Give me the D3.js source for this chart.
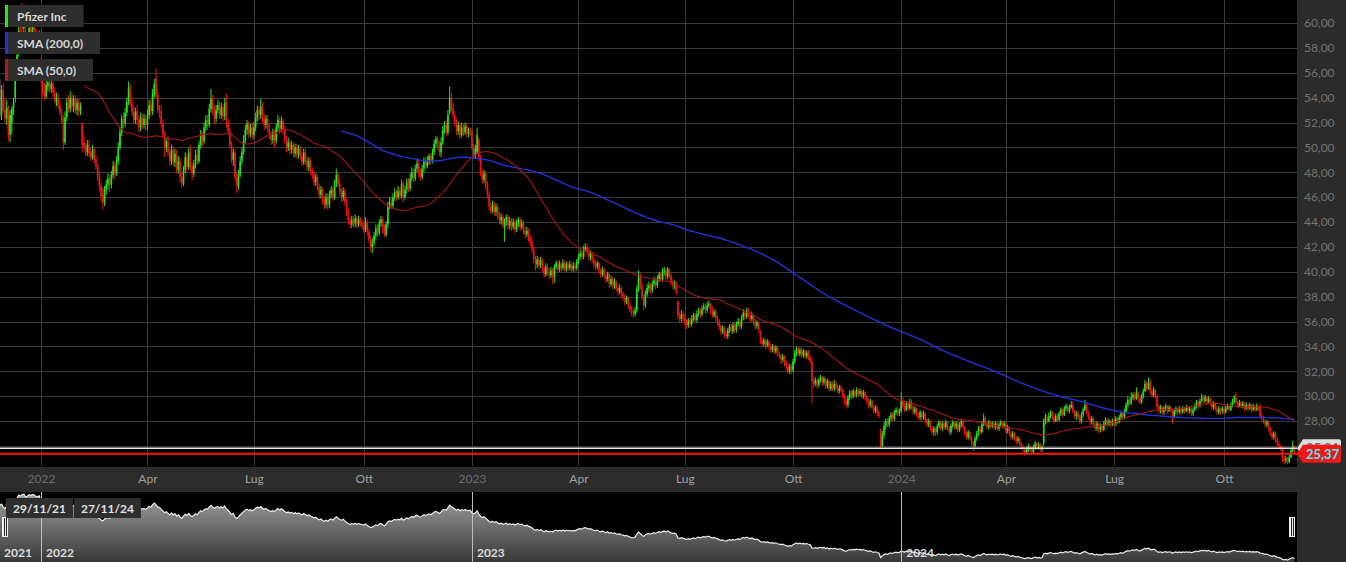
<!DOCTYPE html>
<html>
<head>
<meta charset="utf-8">
<script src="https://cdn.jsdelivr.net/npm/d3@7"></script>
<style>
  html, body { margin: 0; padding: 0; background: #000; overflow: hidden; }
  svg { display: block; font-family: Lato, 'Open Sans', sans-serif; }
</style>
</head>
<body>
<div id="viz"></div>
<script>
const width = 1346;
const height = 562;
const plotRight = 1297;
const plotBottom = 466;
const navTop = 492;

// trading calendar (NYSE)
const firstDay = '2021-11-29';
const lastDay = '2024-11-27';
const holidays = ['2021-12-24', '2022-01-17', '2022-02-21', '2022-04-15', '2022-05-30', '2022-06-20',
  '2022-07-04', '2022-09-05', '2022-11-24', '2022-12-26', '2023-01-02', '2023-01-16', '2023-02-20',
  '2023-04-07', '2023-05-29', '2023-06-19', '2023-07-04', '2023-09-04', '2023-11-23', '2023-12-25',
  '2024-01-01', '2024-01-15', '2024-02-19', '2024-03-29', '2024-05-27', '2024-06-19', '2024-07-04',
  '2024-09-02'];

// daily candles: open high low close, one month per line
const ohlc2021 = `
54.0 55.5 52.4 54.0, 52.6 55.0 52.2 54.6
54.6 55.2 52.8 53.0, 53.0 54.0 52.0 52.3, 52.3 53.8 51.8 53.2, 52.8 53.4 50.5 51.0, 51.0 53.0 50.4 52.6, 52.0 53.3 51.1 53.1, 53.1 54.0 52.6 53.6, 54.0 56.2 53.6 55.8, 56.0 57.8 55.6 57.4, 57.6 59.8 57.3 59.4, 59.2 60.0 58.2 59.0, 60.0 61.6 59.0 59.6, 59.6 61.2 59.2 60.0, 59.4 59.9 58.0 58.4, 58.4 59.2 57.8 58.8, 58.9 60.0 58.5 59.6, 59.5 60.0 58.8 59.2, 59.2 60.2 59.0 59.8, 59.8 60.4 59.1 59.4, 59.4 59.6 58.4 58.8, 58.8 59.2 58.2 58.6, 58.6 59.4 58.3 59.0
`;
const ohlc2022 = `
57.0 57.2 55.2 55.6, 55.6 55.9 54.0 54.3, 54.5 55.2 53.8 54.1, 54.1 55.4 53.9 55.0, 54.9 55.6 54.5 55.2, 55.2 55.5 54.4 54.7, 54.7 55.4 54.4 55.1, 55.1 55.3 54.0 54.4, 54.4 54.8 53.6 53.8, 53.6 54.4 53.3 54.0, 54.0 54.3 53.1 53.4, 53.4 53.8 52.6 52.8, 52.8 53.1 51.9 52.2, 52.3 52.6 49.8 50.4, 50.4 52.9 50.2 52.4, 52.4 54.0 52.1 53.6, 53.6 54.2 52.8 53.1, 53.1 54.5 52.8 54.0, 54.0 54.4 52.9 53.3, 53.3 54.2 52.8 53.9
53.9 54.1 52.7 53.0, 53.0 53.9 52.6 53.6, 53.6 53.9 52.5 52.9, 52.9 53.6 52.6 53.3, 51.9 52.0 49.6 50.2, 50.4 51.0 49.7 50.0, 50.0 50.4 49.3 49.6, 49.6 50.6 49.3 50.2, 50.2 50.6 49.2 49.5, 49.6 50.0 48.9 49.2, 49.2 50.2 49.0 49.8, 49.8 50.0 48.7 49.0, 49.1 49.4 48.2 48.5, 48.5 48.7 47.3 47.8, 47.8 48.1 46.5 46.9, 46.9 47.2 45.6 46.1, 46.2 46.8 45.0 45.6, 45.6 46.9 45.3 46.6, 46.6 47.4 46.2 47.0
47.0 47.9 46.6 47.5, 47.5 47.8 46.4 47.0, 47.0 48.1 46.7 47.8, 47.8 48.9 47.5 48.5, 48.5 48.8 47.5 47.9, 47.9 49.3 47.7 48.9, 48.9 50.4 48.6 50.0, 50.0 51.6 49.8 51.2, 51.2 52.6 50.9 52.3, 52.3 52.8 51.5 51.9, 51.9 53.2 51.6 52.8, 52.8 54.0 52.5 53.6, 53.6 55.3 53.4 54.8, 54.6 55.1 53.3 53.6, 53.6 54.0 52.5 52.8, 52.8 53.3 51.9 52.2, 52.2 53.2 51.9 52.9, 52.9 53.4 51.8 52.2, 52.2 52.6 51.2 51.6, 51.6 52.8 51.3 52.4, 52.4 52.7 51.5 51.8, 51.8 52.7 51.5 52.3, 52.3 52.6 51.3 51.8
51.8 53.0 51.4 52.6, 52.6 53.8 52.3 53.4, 53.4 53.9 52.5 52.9, 52.9 54.7 52.6 54.3, 54.3 55.5 54.0 55.1, 55.6 56.4 53.9 54.2, 54.2 54.5 52.7 53.0, 53.0 53.4 52.4 52.9, 52.9 53.4 51.6 51.9, 51.9 52.3 50.7 51.0, 51.0 51.3 49.2 50.0, 50.0 50.8 49.6 50.5, 50.5 50.9 49.3 49.6, 49.6 49.9 48.5 48.9, 48.9 50.2 48.6 49.8, 49.8 50.1 48.5 48.8, 48.8 49.9 48.4 49.5, 49.5 49.8 47.9 48.2, 48.2 49.3 47.9 48.9, 48.9 49.2 47.2 47.6
47.6 48.0 46.8 47.1, 47.1 48.5 46.9 48.2, 48.2 49.6 47.9 49.2, 49.2 49.5 48.0 48.4, 48.4 50.0 48.2 49.6, 49.6 50.2 48.1 48.5, 48.5 48.8 47.4 47.9, 47.9 49.0 47.6 48.6, 48.6 49.8 48.3 49.4, 49.4 49.9 48.6 48.9, 48.9 50.5 48.7 50.2, 50.2 51.4 49.9 51.0, 51.0 51.3 50.1 50.5, 50.5 52.0 50.3 51.6, 51.6 52.6 51.3 52.2, 52.2 52.6 51.4 51.8, 51.8 53.5 51.6 53.1, 53.1 54.7 52.8 53.9, 53.9 54.2 52.6 53.0, 53.0 53.3 51.9 52.3, 52.3 53.4 52.0 53.0
53.0 53.8 52.7 53.4, 53.4 53.7 52.3 52.6, 52.6 53.6 52.3 53.2, 53.2 53.5 52.1 52.5, 52.5 54.0 52.2 53.6, 53.6 54.3 51.6 52.0, 52.0 52.3 51.0 51.3, 51.3 51.6 49.9 50.2, 50.2 50.5 48.7 49.0, 49.0 49.9 48.5 49.6, 49.6 49.8 47.3 47.6, 47.6 48.0 46.3 46.9, 46.9 48.2 46.6 47.8, 47.8 49.3 47.6 48.9, 48.9 50.0 48.6 49.6, 49.6 51.0 49.4 50.6, 50.6 51.8 50.3 51.4, 51.4 52.2 51.0 51.9, 51.9 52.1 50.8 51.1, 51.1 51.9 50.8 51.6, 51.6 52.0 50.6 51.0
51.0 52.0 50.7 51.6, 51.6 52.8 51.3 52.4, 52.4 53.4 52.1 53.0, 53.0 53.3 52.2 52.6, 52.6 53.9 52.3 53.3, 53.3 53.6 52.0 52.3, 52.3 52.7 51.4 51.8, 51.8 52.6 51.5 52.3, 52.3 52.6 51.2 51.5, 51.5 51.9 50.7 51.0, 51.0 51.3 50.2 50.6, 50.6 51.5 50.3 51.2, 51.2 51.4 50.0 50.5, 50.5 51.9 50.3 51.6, 51.6 52.6 51.3 52.2, 52.2 52.4 51.1 51.5, 51.5 52.5 51.2 52.1, 52.1 52.3 51.0 51.4, 51.4 51.7 50.3 50.6, 50.6 50.9 49.6 50.0
50.0 50.8 49.7 50.4, 50.4 50.6 49.4 49.8, 49.8 50.5 49.5 50.2, 50.2 50.4 49.2 49.5, 49.5 50.3 49.2 50.0, 50.0 50.3 49.1 49.4, 49.4 50.2 49.1 49.9, 49.9 50.1 49.0 49.3, 49.3 49.6 48.5 48.8, 48.8 49.9 48.6 49.6, 49.6 49.9 48.6 49.0, 49.0 49.3 48.1 48.4, 48.4 49.2 48.1 48.9, 48.9 49.1 47.8 48.1, 48.1 48.4 47.4 47.8, 47.8 48.1 46.9 47.2, 47.2 47.9 46.9 47.6, 47.6 47.8 46.5 46.8, 46.8 47.1 45.9 46.2, 46.2 46.9 45.9 46.6, 46.6 46.8 45.4 45.8, 45.8 46.1 45.0 45.4, 45.4 46.3 45.1 46.0
46.0 46.3 45.0 45.4, 45.4 46.5 45.1 46.2, 46.2 46.9 45.9 46.6, 46.6 46.8 45.7 46.0, 46.0 47.4 45.8 47.0, 47.0 48.3 46.8 47.8, 47.8 48.0 46.8 47.1, 47.1 47.4 46.1 46.4, 46.4 46.7 45.6 46.0, 46.0 46.8 45.7 46.5, 46.5 46.7 45.3 45.6, 45.6 45.9 44.5 44.8, 44.8 45.1 43.8 44.1, 44.1 44.4 43.5 43.8, 43.8 44.5 43.5 44.2, 44.2 44.5 43.6 43.9, 43.9 44.6 43.6 44.3, 44.3 44.5 43.5 43.8, 43.8 44.5 43.6 44.2, 44.2 44.4 43.6 43.9, 43.9 44.2 43.4 43.7
43.7 44.1 43.1 43.4, 43.4 44.4 43.2 44.0, 44.0 44.2 42.9 43.2, 43.2 43.5 42.3 42.6, 42.6 42.9 41.6 42.0, 42.0 42.7 41.5 42.4, 42.4 43.2 42.1 42.9, 42.9 43.8 42.6 43.5, 43.5 43.8 42.8 43.1, 43.1 44.2 42.9 43.9, 43.9 44.5 43.6 44.2, 44.2 44.4 43.1 43.5, 43.5 43.8 42.8 43.0, 43.0 44.1 42.8 43.8, 43.8 45.6 43.5 45.2, 45.2 46.0 45.0 45.6, 45.6 46.0 45.0 45.3, 45.3 46.3 45.1 46.0, 46.0 46.7 45.7 46.4, 46.4 46.6 45.7 46.0, 46.0 46.9 45.8 46.5
46.5 46.8 45.8 46.1, 46.1 47.4 45.9 47.1, 47.1 47.3 45.6 46.0, 46.0 46.9 45.8 46.6, 46.6 47.5 46.3 47.2, 47.2 47.5 46.4 46.7, 46.7 47.9 46.5 47.5, 47.5 48.4 47.3 48.0, 48.0 48.3 47.2 47.5, 47.5 48.6 47.3 48.3, 48.3 49.1 48.0 48.7, 48.7 49.0 47.6 48.0, 48.0 48.3 47.3 47.6, 47.6 48.6 47.4 48.3, 48.3 49.2 48.0 48.9, 48.9 49.2 48.2 48.5, 48.5 49.3 48.3 48.9, 48.9 49.5 48.6 49.3, 49.3 49.5 48.6 48.9, 48.9 49.9 48.7 49.6, 49.6 50.6 49.4 50.3
50.3 50.9 50.0 50.7, 50.7 50.9 49.8 50.2, 50.2 50.5 49.3 49.6, 49.6 50.8 49.2 50.4, 50.4 51.7 50.2 51.4, 51.4 52.1 51.1 51.8, 51.8 52.1 50.9 51.2, 51.2 53.0 51.0 52.6, 52.8 54.9 52.6 54.0, 54.0 54.4 52.9 53.2, 53.2 53.6 52.3 52.6, 52.6 52.9 51.7 52.0, 52.0 52.3 51.0 51.3, 51.3 52.1 51.0 51.8, 51.8 52.0 50.7 51.0, 51.0 52.0 50.8 51.6, 51.6 51.9 50.9 51.2, 51.2 52.0 51.0 51.7, 51.7 51.9 50.8 51.1, 51.1 51.6 50.8 51.2, 51.4 51.6 50.9 51.2
`;
const ohlc2023 = `
51.2 51.4 49.8 50.0, 50.0 50.3 49.1 49.4, 49.4 50.2 49.1 49.9, 49.6 51.6 49.5 51.0, 50.6 50.8 48.9 49.2, 49.2 49.4 47.7 48.0, 48.0 48.3 47.1 47.4, 47.4 48.2 47.1 47.9, 47.9 48.1 46.6 47.1, 47.1 47.3 45.9 46.2, 46.2 46.5 44.9 45.3, 45.3 45.6 44.6 44.9, 44.9 45.7 44.7 45.4, 45.4 45.6 44.5 44.8, 44.8 45.5 44.5 45.2, 45.2 45.4 44.2 44.6, 44.6 44.8 43.8 44.1, 44.1 44.7 43.8 44.4, 44.4 44.6 43.5 43.8, 43.6 44.3 42.4 44.1
44.1 44.6 43.7 44.4, 44.4 44.6 43.4 43.7, 43.7 44.4 43.4 44.1, 44.1 44.3 43.3 43.6, 43.6 44.3 43.4 44.0, 44.0 44.2 43.1 43.4, 43.4 44.2 43.2 43.9, 43.9 44.4 43.6 44.2, 44.2 44.4 43.3 43.6, 43.6 44.2 43.4 43.9, 43.9 44.1 43.0 43.3, 43.3 43.6 42.7 43.0, 43.0 43.6 42.8 43.3, 43.3 43.5 42.4 42.7, 42.7 43.0 42.1 42.4, 42.4 42.6 41.5 41.8, 41.8 42.0 40.7 41.0, 41.0 41.3 40.1 40.6, 40.6 41.3 40.3 41.0
41.0 41.2 40.2 40.5, 40.5 41.2 40.3 40.9, 40.9 41.1 40.0 40.3, 40.3 40.5 39.5 39.8, 39.8 40.7 39.6 40.4, 40.4 40.6 39.7 40.0, 40.0 40.3 39.4 39.7, 39.7 40.4 39.5 40.1, 40.1 40.3 39.0 39.6, 39.6 40.6 39.1 40.4, 40.4 40.9 40.2 40.7, 40.7 40.9 40.0 40.2, 40.2 40.9 40.0 40.6, 40.6 40.8 40.0 40.3, 40.3 41.0 40.1 40.7, 40.7 40.9 40.0 40.2, 40.2 40.8 40.0 40.6, 40.6 40.8 40.1 40.3, 40.3 40.9 40.1 40.6, 40.6 40.7 40.0 40.2, 40.2 40.8 40.0 40.5, 40.5 40.7 40.0 40.3, 40.3 41.0 40.1 40.8
40.8 41.4 40.6 41.2, 41.2 41.8 41.0 41.5, 41.5 41.7 40.9 41.2, 41.2 42.1 41.0 41.8, 41.8 42.3 41.6 42.0, 42.0 42.2 41.3 41.6, 41.6 41.9 40.9 41.2, 41.2 41.7 40.9 41.5, 41.5 41.6 40.7 41.0, 41.0 41.2 40.3 40.6, 40.6 40.9 40.1 40.4, 40.4 40.9 40.2 40.7, 40.7 40.8 39.8 40.1, 40.1 40.3 39.5 39.8, 39.8 40.4 39.6 40.2, 40.2 40.3 39.4 39.7, 39.7 39.9 39.1 39.4, 39.4 40.0 39.2 39.8, 39.8 39.9 38.7 39.0
39.0 39.7 38.8 39.4, 39.4 39.6 38.6 38.9, 38.9 39.5 38.6 39.2, 39.2 39.3 38.4 38.7, 38.7 38.9 38.1 38.4, 38.4 39.0 38.2 38.7, 38.7 38.8 37.9 38.2, 38.2 38.4 37.7 38.0, 38.0 38.2 37.3 37.6, 37.6 38.1 37.4 37.9, 37.9 38.0 37.0 37.3, 37.3 37.6 36.7 37.0, 37.0 37.2 36.4 36.7, 36.7 37.0 36.3 36.6, 36.6 37.2 36.4 36.9, 36.9 38.9 36.7 38.6, 38.6 40.1 38.4 39.6, 39.6 39.9 38.6 38.9, 38.9 39.1 37.7 38.0, 38.0 38.2 36.9 37.3, 37.3 38.5 37.1 38.2, 38.2 39.0 38.0 38.7
38.7 39.2 38.4 38.9, 38.9 39.1 38.2 38.5, 38.5 39.3 38.3 39.0, 39.0 39.6 38.8 39.3, 39.3 39.5 38.6 38.9, 38.9 39.7 38.7 39.4, 39.4 40.0 39.2 39.8, 39.8 40.0 39.2 39.4, 39.4 40.3 39.2 40.0, 40.0 40.4 39.7 40.1, 40.1 40.3 39.3 39.6, 39.6 40.4 39.4 40.2, 40.2 40.3 39.5 39.7, 39.7 39.9 38.9 39.2, 39.2 39.4 38.6 38.9, 38.9 39.3 38.6 39.1, 39.1 39.2 38.1 38.4, 37.6 37.7 36.2 36.5, 36.5 36.8 35.9 36.2, 36.2 36.9 36.0 36.6, 36.6 36.8 36.0 36.3
36.3 36.6 35.7 36.0, 36.0 36.2 35.4 35.7, 35.7 36.3 35.5 36.1, 36.1 36.3 35.5 35.8, 35.8 36.5 35.6 36.2, 36.2 36.7 36.0 36.5, 36.5 36.7 35.9 36.1, 36.1 36.9 35.9 36.6, 36.6 37.1 36.4 36.9, 36.9 37.1 36.3 36.6, 36.6 37.3 36.4 37.0, 37.0 37.5 36.9 37.2, 37.2 37.4 36.6 36.9, 36.9 37.6 36.7 37.3, 37.3 37.7 37.1 37.4, 37.4 37.5 36.6 36.9, 36.9 37.2 36.3 36.5, 36.5 37.0 36.3 36.8, 36.8 37.0 36.0 36.3, 36.3 36.5 35.7 36.0
36.0 36.2 35.3 35.6, 35.6 35.8 34.9 35.2, 35.2 35.7 35.0 35.5, 35.5 35.6 34.7 35.0, 35.0 35.2 34.6 34.8, 34.8 35.5 34.6 35.3, 35.3 35.8 35.1 35.6, 35.6 35.8 35.0 35.2, 35.2 35.9 35.0 35.7, 35.7 35.9 35.1 35.3, 35.3 36.0 35.1 35.8, 35.8 36.3 35.6 36.0, 36.0 36.2 35.4 35.6, 35.6 36.5 35.4 36.3, 36.3 37.0 36.1 36.7, 36.7 36.9 36.1 36.4, 36.4 37.1 36.2 36.9, 36.9 37.1 36.3 36.5, 36.5 36.8 35.9 36.2, 36.2 36.8 36.0 36.5, 36.5 36.6 35.7 36.0, 36.0 36.2 35.4 35.6, 35.6 36.1 35.4 35.9
35.9 36.0 35.1 35.4, 35.2 35.3 34.2 34.5, 34.5 34.7 33.9 34.2, 34.2 34.7 34.0 34.5, 34.5 34.6 33.8 34.1, 34.1 34.6 33.9 34.4, 34.4 34.5 33.7 34.0, 34.0 34.2 33.5 33.7, 33.7 34.2 33.5 34.0, 34.0 34.1 33.4 33.6, 33.6 34.1 33.4 33.9, 33.9 34.0 33.2 33.4, 33.4 33.6 33.0 33.2, 33.2 33.4 32.6 32.9, 32.9 33.4 32.7 33.2, 33.2 33.3 32.4 32.7, 32.7 32.9 32.1 32.4, 32.4 32.6 31.8 32.0, 32.0 32.6 31.8 32.4, 32.4 32.6 31.8 32.1
32.1 33.0 31.9 32.8, 32.8 33.7 32.6 33.4, 33.4 34.0 33.2 33.8, 33.8 34.0 33.2 33.4, 33.4 33.9 33.2 33.7, 33.7 33.9 33.1 33.3, 33.3 33.8 33.1 33.6, 33.6 33.7 33.0 33.2, 33.2 33.7 33.0 33.5, 33.5 33.7 32.9 33.1, 33.1 33.3 32.6 32.8, 32.8 33.0 29.4 31.2, 31.2 31.5 30.7 31.0, 31.0 31.5 30.8 31.3, 31.3 31.4 30.6 30.9, 30.9 31.5 30.7 31.3, 31.3 31.7 31.1 31.5, 31.5 31.6 30.8 31.1, 31.1 31.6 30.9 31.4, 31.4 31.5 30.6 30.8, 30.8 31.4 30.6 31.2, 31.2 31.3 30.4 30.6
30.6 31.2 30.4 31.0, 31.0 31.2 30.4 30.6, 30.6 31.3 30.4 31.0, 31.0 31.2 30.5 30.7, 30.7 30.9 30.2 30.4, 30.4 30.9 30.2 30.7, 30.7 30.9 30.3 30.5, 30.5 30.6 29.8 30.0, 30.0 30.2 29.3 29.6, 29.6 29.8 29.0 29.3, 29.3 30.1 29.1 29.9, 29.9 30.5 29.7 30.3, 30.3 30.5 29.8 30.0, 30.0 30.6 29.8 30.4, 30.4 30.5 29.9 30.1, 30.1 30.7 29.9 30.5, 30.5 30.6 30.0 30.2, 30.2 30.6 30.0 30.4, 30.4 30.5 29.8 30.0, 30.0 30.5 29.8 30.3, 30.3 30.4 29.7 29.9
29.9 30.1 29.4 29.6, 29.6 29.8 29.0 29.3, 29.3 29.8 29.1 29.6, 29.6 29.7 28.9 29.1, 29.1 29.3 28.6 28.8, 28.8 29.3 28.6 29.1, 29.1 29.2 28.4 28.7, 28.7 28.9 28.2 28.4, 27.3 27.4 25.8 26.0, 26.0 27.2 25.9 26.9, 26.9 27.9 26.6 27.6, 27.6 28.2 27.3 28.0, 28.0 28.2 27.5 27.7, 27.7 28.4 27.5 28.2, 28.2 28.7 28.0 28.5, 28.5 28.7 28.0 28.2, 28.2 28.9 28.0 28.7, 28.7 29.1 28.5 28.9, 28.9 29.1 28.4 28.6, 28.6 29.0 28.4 28.8
`;
const ohlc2024 = `
28.8 30.3 28.7 29.6, 29.6 29.9 29.0 29.2, 29.2 29.5 28.7 28.9, 28.9 29.6 28.8 29.4, 29.4 29.6 28.8 29.0, 29.0 29.8 28.9 29.5, 29.5 29.7 28.9 29.1, 29.1 29.3 28.5 28.7, 28.7 29.2 28.5 29.0, 29.0 29.1 28.3 28.5, 28.5 28.7 28.1 28.3, 28.3 28.9 28.1 28.7, 28.7 28.8 28.0 28.3, 28.3 28.8 28.1 28.6, 28.6 28.7 27.8 28.1, 28.1 28.2 27.5 27.7, 27.7 28.2 27.5 28.0, 28.0 28.1 27.2 27.4, 27.4 27.6 26.9 27.1, 27.1 27.6 26.8 27.4, 27.4 27.5 26.8 27.1
27.1 27.8 26.9 27.6, 27.6 28.1 27.4 27.9, 27.9 28.0 27.2 27.4, 27.4 28.0 27.2 27.8, 27.8 27.9 27.3 27.5, 27.5 28.1 27.3 27.9, 27.9 28.0 27.2 27.4, 27.4 27.6 26.9 27.1, 27.1 27.8 26.9 27.6, 27.6 28.1 27.4 27.9, 27.9 28.0 27.3 27.5, 27.5 28.0 27.3 27.8, 27.8 27.9 27.1 27.3, 27.3 27.9 27.1 27.7, 27.7 28.2 27.5 28.0, 28.0 28.1 27.3 27.5, 27.5 27.6 26.8 27.0, 27.0 27.2 26.5 26.7, 26.7 27.3 26.5 27.1, 27.1 27.2 26.4 26.6
26.6 26.8 26.0 26.3, 26.3 26.4 25.6 26.0, 26.0 26.8 25.9 26.6, 26.6 27.2 26.4 27.0, 27.0 27.6 26.8 27.4, 27.4 27.6 26.9 27.1, 27.1 27.9 27.0 27.7, 27.7 28.6 27.6 28.2, 28.2 28.4 27.6 27.8, 27.8 28.0 27.3 27.5, 27.5 28.1 27.3 27.9, 27.9 28.0 27.4 27.6, 27.6 28.0 27.4 27.8, 27.8 27.9 27.3 27.5, 27.5 28.0 27.3 27.8, 27.8 27.9 27.2 27.4, 27.4 27.9 27.2 27.7, 27.7 28.1 27.5 27.9, 27.9 28.0 27.4 27.6, 27.6 28.0 27.4 27.8
27.8 27.9 27.0 27.2, 27.2 27.7 27.0 27.5, 27.5 27.6 26.8 27.0, 27.0 27.2 26.5 26.7, 26.7 27.2 26.5 27.0, 27.0 27.1 26.4 26.6, 26.6 26.8 26.1 26.4, 26.4 26.8 26.2 26.6, 26.6 26.7 26.0 26.2, 26.2 26.3 25.7 25.9, 25.9 26.1 25.5 25.7, 25.7 25.9 25.2 25.4, 25.4 25.9 25.3 25.7, 25.7 26.2 25.5 26.0, 26.0 26.1 25.5 25.7, 25.7 25.9 25.3 25.5, 25.5 26.1 25.3 25.9, 25.9 26.4 25.7 26.2, 26.2 26.3 25.7 25.9, 25.9 26.3 25.7 26.1, 26.1 26.2 25.5 25.7, 25.7 26.1 25.5 25.9
26.2 28.2 26.0 27.9, 27.9 28.6 27.7 28.3, 28.3 28.5 27.8 28.0, 28.0 28.7 27.9 28.4, 28.4 28.9 28.2 28.7, 28.7 28.8 28.1 28.3, 28.3 28.5 27.8 28.0, 28.0 28.6 27.9 28.4, 28.4 28.6 27.9 28.1, 28.1 28.8 28.0 28.6, 28.6 29.1 28.4 28.9, 28.9 29.0 28.3 28.5, 28.5 29.2 28.4 29.0, 29.0 29.4 28.8 29.2, 29.2 29.3 28.6 28.8, 28.8 29.3 28.6 29.1, 29.1 29.6 29.0 29.3, 29.3 29.6 28.6 28.8, 28.8 28.9 28.2 28.4, 28.4 28.8 28.1 28.6, 28.6 28.8 28.1 28.3, 28.3 28.5 27.8 28.0
28.0 28.7 27.8 28.5, 28.5 29.1 28.3 28.9, 28.9 29.7 28.8 29.3, 29.3 29.4 28.5 28.7, 28.7 28.8 28.1 28.3, 28.3 28.4 27.7 27.9, 27.9 28.4 27.7 28.2, 28.2 28.3 27.5 27.7, 27.7 27.9 27.2 27.4, 27.4 28.0 27.2 27.8, 27.8 27.9 27.0 27.3, 27.3 27.8 27.1 27.6, 27.6 27.7 27.1 27.3, 27.3 28.0 27.2 27.8, 27.8 28.3 27.6 28.1, 28.1 28.2 27.5 27.7, 27.7 28.2 27.6 28.0, 28.0 28.1 27.5 27.7, 27.7 28.2 27.6 28.0
28.0 28.2 27.6 27.8, 27.8 28.4 27.6 28.2, 28.2 28.3 27.7 27.9, 27.9 28.5 27.8 28.3, 28.3 28.8 28.1 28.6, 28.6 28.7 28.1 28.3, 28.3 29.0 28.2 28.8, 28.8 29.5 28.7 29.3, 29.3 30.0 29.1 29.7, 29.7 29.9 29.2 29.4, 29.4 30.3 29.3 29.9, 29.9 30.3 29.7 30.1, 30.1 30.3 29.6 29.8, 29.8 30.7 29.7 30.3, 30.3 30.4 29.5 29.8, 29.8 30.0 29.3 29.5, 29.5 30.2 29.4 30.0, 30.0 30.6 29.8 30.4, 30.4 31.3 30.3 31.0, 31.0 31.2 30.4 30.6, 30.6 31.5 30.5 31.1, 31.1 31.4 30.1 30.4
30.4 30.6 29.9 30.1, 30.1 30.8 29.9 30.5, 30.5 30.6 29.8 30.0, 30.0 30.1 28.9 29.2, 29.2 29.4 28.6 28.8, 28.8 29.3 28.6 29.1, 29.1 29.2 28.5 28.7, 28.7 29.2 28.5 29.0, 29.0 29.4 28.8 29.2, 29.2 29.3 28.6 28.8, 28.8 29.3 28.7 29.1, 29.1 29.2 28.7 28.9, 28.9 29.0 27.8 28.3, 28.3 29.0 28.2 28.8, 28.8 29.2 28.6 29.0, 29.0 29.1 28.5 28.7, 28.7 29.2 28.6 29.0, 29.0 29.1 28.5 28.7, 28.7 29.2 28.6 29.0, 29.0 29.1 28.6 28.8, 28.8 29.3 28.7 29.1, 29.1 29.2 28.6 28.8
28.8 29.2 28.6 29.0, 29.0 29.1 28.4 28.6, 28.6 29.1 28.4 28.9, 28.9 29.4 28.8 29.2, 29.2 29.7 29.0 29.5, 29.5 29.6 29.0 29.2, 29.2 29.8 29.1 29.6, 29.6 30.2 29.5 29.9, 29.9 30.1 29.4 29.6, 29.6 30.1 29.5 29.9, 29.9 30.0 29.3 29.5, 29.5 30.0 29.4 29.8, 29.8 29.9 29.2 29.4, 29.4 29.6 28.9 29.1, 29.1 29.6 28.9 29.4, 29.4 29.5 28.8 29.0, 29.0 29.2 28.5 28.7, 28.7 29.2 28.5 29.0, 29.0 29.1 28.5 28.8, 28.8 29.2 28.6 29.0
29.0 29.1 28.5 28.7, 28.7 29.2 28.6 29.0, 29.0 29.4 28.9 29.2, 29.2 29.3 28.7 28.9, 28.9 29.5 28.8 29.3, 29.3 29.8 29.1 29.6, 29.6 30.1 29.4 29.9, 29.9 30.3 29.3 29.5, 29.5 29.6 29.0 29.2, 29.2 29.7 29.1 29.5, 29.5 29.6 29.0 29.2, 29.2 29.6 29.0 29.4, 29.4 29.5 28.8 29.0, 29.0 29.5 28.9 29.3, 29.3 29.4 28.8 29.0, 29.0 29.5 28.9 29.3, 29.3 29.4 28.7 28.9, 28.9 29.4 28.8 29.2, 29.2 29.3 28.7 28.9, 28.9 29.4 28.8 29.2, 29.2 29.3 28.8 29.0, 29.2 29.4 28.2 28.4, 28.4 28.6 28.0 28.3
28.3 28.4 27.8 28.0, 28.0 28.1 27.5 27.7, 27.7 28.1 27.5 27.9, 27.9 28.0 27.2 27.4, 27.4 27.5 26.8 27.0, 27.0 27.1 26.5 26.7, 26.7 27.2 26.5 27.0, 27.0 27.1 26.3 26.5, 26.5 26.7 26.0 26.2, 26.2 26.4 25.8 26.0, 26.0 26.1 25.6 25.8, 25.8 25.9 24.7 25.0, 25.0 25.2 24.5 24.8, 24.8 25.2 24.6 25.0, 25.0 25.1 24.5 24.7, 24.7 25.3 24.6 25.1, 25.1 25.8 25.0 25.6, 25.6 26.4 25.5 26.0, 26.0 26.1 25.3 25.37
`;

const priceTicks = [26, 28, 30, 32, 34, 36, 38, 40, 42, 44, 46, 48, 50, 52, 54, 56, 58, 60];
const monthNames = ['Gen', 'Feb', 'Mar', 'Apr', 'Mag', 'Giu', 'Lug', 'Ago', 'Set', 'Ott', 'Nov', 'Dic'];
const tickMonths = [0, 3, 6, 9];
const navYears = ['2021', '2022', '2023', '2024'];
const legendLabels = ['Pfizer Inc', 'SMA (200,0)', 'SMA (50,0)'];
const smaPeriods = [200, 50];
const lastPrice = 25.37;
const prevPrice = 25.81;
const rangeLabels = ['29/11/21', '27/11/24'];

// ---- build data ----
const parseRows = txt => txt.trim().split(/[\n,]+/).map(s => s.trim()).filter(s => s.length)
  .map(s => s.split(/\s+/).map(Number));
const rows = [].concat(parseRows(ohlc2021), parseRows(ohlc2022), parseRows(ohlc2023), parseRows(ohlc2024));

const dates = [];
for (let d = new Date(firstDay + 'T00:00:00Z'); d <= new Date(lastDay + 'T00:00:00Z'); d.setUTCDate(d.getUTCDate() + 1)) {
  const wd = d.getUTCDay();
  const iso = d.toISOString().slice(0, 10);
  if (wd === 0 || wd === 6 || holidays.includes(iso)) continue;
  dates.push(new Date(d));
}

const n = Math.min(rows.length, dates.length);
const candles = d3.range(n).map(i => ({i: i, date: dates[i], o: rows[i][0], h: rows[i][1], l: rows[i][2], c: rows[i][3]}));
const closes = candles.map(d => d.c);

const sma = period => {
  const out = [];
  let sum = 0;
  closes.forEach((c, i) => {
    sum += c;
    if (i >= period) sum -= closes[i - period];
    if (i >= period - 1) out.push({i: i, v: sum / period});
  });
  return out;
};

// ---- scales ----
const x = d3.scaleLinear().domain([0, 754]).range([-0.2, 1294.4]);
const y = d3.scaleLinear().domain([28, 60]).range([421, 23]);
const ny = d3.scaleLinear().domain([d3.min(closes), d3.max(closes)]).range([560, 494]);

const quarterTicks = candles.filter((d, k) => k > 0 && tickMonths.includes(d.date.getUTCMonth()) &&
  d.date.getUTCMonth() !== candles[k - 1].date.getUTCMonth()).map(d => d.i);
const yearStarts = candles.filter((d, k) => k > 0 && d.date.getUTCFullYear() !== candles[k - 1].date.getUTCFullYear()).map(d => d.i);
const tickLabel = i => {
  const m = candles[i].date.getUTCMonth();
  return m === 0 ? String(candles[i].date.getUTCFullYear()) : monthNames[m];
};
const priceFmt = v => d3.format('.2f')(v).replace('.', ',');

const svg = d3.select('#viz').append('svg')
  .attr('width', width)
  .attr('height', height)
  .attr('viewBox', [0, 0, width, height]);

const defs = svg.append('defs');
defs.append('clipPath').attr('id', 'plotClip')
  .append('rect').attr('x', 0).attr('y', 0).attr('width', plotRight).attr('height', plotBottom);
const grad = defs.append('linearGradient').attr('id', 'navGrad')
  .attr('gradientUnits', 'userSpaceOnUse').attr('x1', 0).attr('x2', 0).attr('y1', navTop).attr('y2', height);
grad.append('stop').attr('offset', 0).attr('stop-color', '#a2a2a2');
grad.append('stop').attr('offset', 1).attr('stop-color', '#383838');

svg.append('rect').attr('width', width).attr('height', height).attr('fill', '#000');

// grid
const grid = svg.append('g').attr('clip-path', 'url(#plotClip)');
grid.selectAll('.hgrid').data(priceTicks).join('line')
  .attr('class', 'hgrid')
  .attr('x1', 0).attr('x2', plotRight)
  .attr('y1', d => Math.round(y(d)) + 0.5).attr('y2', d => Math.round(y(d)) + 0.5)
  .attr('stroke', '#3b3b3b');
grid.selectAll('.vgrid').data(quarterTicks).join('line')
  .attr('class', 'vgrid')
  .attr('x1', d => Math.round(x(d)) + 0.5).attr('x2', d => Math.round(x(d)) + 0.5)
  .attr('y1', 0).attr('y2', plotBottom)
  .attr('stroke', '#3b3b3b');

// candles
const candleColor = d => d.c > d.o ? '#22e622' : (d.c < d.o ? '#f21414' : '#b4b4b4');
const cg = svg.append('g').attr('clip-path', 'url(#plotClip)');
cg.selectAll('.wick').data(candles).join('line')
  .attr('class', 'wick')
  .attr('x1', d => x(d.i)).attr('x2', d => x(d.i))
  .attr('y1', d => y(d.h)).attr('y2', d => y(d.l))
  .attr('stroke', candleColor)
  .attr('stroke-width', 1);
cg.selectAll('.body').data(candles).join('rect')
  .attr('class', 'body')
  .attr('x', d => x(d.i) - 0.8)
  .attr('width', 1.6)
  .attr('y', d => y(Math.max(d.o, d.c)))
  .attr('height', d => Math.max(1, Math.abs(y(d.o) - y(d.c))))
  .attr('fill', candleColor);

// moving averages
const lineGen = d3.line().x(d => x(d.i)).y(d => y(d.v));
cg.append('path')
  .attr('d', lineGen(sma(smaPeriods[0])))
  .attr('fill', 'none')
  .attr('stroke', '#1e34d6')
  .attr('stroke-width', 1.4);
cg.append('path')
  .attr('d', lineGen(sma(smaPeriods[1])))
  .attr('fill', 'none')
  .attr('stroke', '#a81818')
  .attr('stroke-width', 1.1);

// price lines
svg.append('line')
  .attr('x1', 0).attr('x2', plotRight)
  .attr('y1', y(prevPrice)).attr('y2', y(prevPrice))
  .attr('stroke', '#e6e6e6').attr('stroke-width', 1.5);
svg.append('line')
  .attr('x1', 0).attr('x2', plotRight)
  .attr('y1', y(lastPrice)).attr('y2', y(lastPrice))
  .attr('stroke', '#ff1414').attr('stroke-width', 2);

// x axis band
svg.append('rect')
  .attr('x', 0).attr('y', plotBottom + 1).attr('width', plotRight).attr('height', navTop - plotBottom - 1)
  .attr('fill', '#2c2c2c');
const xAxis = svg.append('g')
  .attr('transform', `translate(0, ${plotBottom + 1})`)
  .call(d3.axisBottom(x).tickValues(quarterTicks).tickSize(0).tickPadding(7).tickFormat(tickLabel));
xAxis.select('.domain').remove();
xAxis.selectAll('text')
  .attr('font-family', 'Lato, sans-serif')
  .attr('font-size', 12)
  .attr('fill', i => candles[i].date.getUTCMonth() === 0 ? '#6c6c6c' : '#a0a0a0');

// right price axis panel
svg.append('rect')
  .attr('x', plotRight).attr('y', 0).attr('width', width - plotRight).attr('height', height)
  .attr('fill', '#2b2b2b');
const yAxis = svg.append('g')
  .attr('transform', `translate(${plotRight}, 0)`)
  .call(d3.axisRight(y).tickValues(priceTicks).tickSize(0).tickPadding(7).tickFormat(priceFmt));
yAxis.select('.domain').remove();
yAxis.selectAll('text')
  .attr('font-family', 'Lato, sans-serif')
  .attr('font-size', 12)
  .attr('fill', '#747474');

// price tags
const tag = (price, fill, textFill, label) => {
  const cy = y(price), h = 9;
  const g = svg.append('g');
  g.append('path')
    .attr('d', `M${plotRight},${cy} L${plotRight + 6},${cy - h} L${width - 7},${cy - h} Q${width - 5},${cy - h} ${width - 5},${cy - h + 2} L${width - 5},${cy + h - 2} Q${width - 5},${cy + h} ${width - 7},${cy + h} L${plotRight + 6},${cy + h} Z`)
    .attr('fill', fill);
  g.append('text')
    .attr('x', plotRight + 9).attr('y', cy + 5)
    .attr('font-size', 13).attr('font-weight', 700)
    .attr('fill', textFill)
    .text(label);
};
tag(prevPrice, '#dedede', '#6a6a6a', priceFmt(prevPrice));
tag(lastPrice, '#f51616', '#3cf0ff', priceFmt(lastPrice));

// navigator
svg.append('rect')
  .attr('x', 0).attr('y', navTop).attr('width', plotRight - 1).attr('height', height - navTop)
  .attr('fill', '#000');
const areaGen = d3.area().x(d => x(d.i)).y0(height).y1(d => ny(d.c));
svg.append('path')
  .attr('d', areaGen(candles))
  .attr('fill', 'url(#navGrad)');
svg.append('path')
  .attr('d', d3.line().x(d => x(d.i)).y(d => ny(d.c))(candles))
  .attr('fill', 'none')
  .attr('stroke', '#ececec')
  .attr('stroke-width', 1.2);
svg.selectAll('.navyear').data(yearStarts).join('line')
  .attr('class', 'navyear')
  .attr('x1', d => Math.round(x(d)) + 0.5).attr('x2', d => Math.round(x(d)) + 0.5)
  .attr('y1', navTop).attr('y2', height)
  .attr('stroke', '#bdbdbd');
svg.selectAll('.navlabel').data(navYears).join('text')
  .attr('class', 'navlabel')
  .attr('x', (d, k) => k === 0 ? 4 : x(yearStarts[k - 1]) + 5)
  .attr('y', 557)
  .attr('font-size', 12).attr('font-weight', 700)
  .attr('fill', '#dcdcdc')
  .text(d => d);

// range handles
const handle = hx => {
  svg.append('rect').attr('x', hx).attr('y', 517).attr('width', 6).attr('height', 20).attr('fill', '#f0f0f0');
  [2, 4].forEach(o => svg.append('line')
    .attr('x1', hx + o + 0.5).attr('x2', hx + o + 0.5).attr('y1', 518).attr('y2', 536)
    .attr('stroke', '#222'));
};
handle(2);
handle(1289);

// range date labels
let bx = 6;
rangeLabels.forEach(lbl => {
  const g = svg.append('g');
  const r = g.append('rect').attr('x', bx).attr('y', 498).attr('height', 20).attr('fill', '#2e2e2e');
  const t = g.append('text').attr('x', bx + 7).attr('y', 512.5)
    .attr('font-size', 12).attr('font-weight', 700).attr('fill', '#e2e2e2').text(lbl);
  const w = t.node().getComputedTextLength() + 14;
  r.attr('width', w);
  bx += w + 1;
});

// legend
const legendColors = ['#22e622', '#1e34d6', '#b01c1c'];
legendLabels.forEach((lbl, k) => {
  const top = 5 + k * 27;
  const g = svg.append('g');
  const r = g.append('rect').attr('x', 5).attr('y', top).attr('height', 22).attr('fill', '#2e2e2e');
  g.append('rect').attr('x', 5).attr('y', top).attr('width', 3).attr('height', 22).attr('fill', legendColors[k]);
  const t = g.append('text').attr('x', 17).attr('y', top + 15.5)
    .attr('font-size', 12).attr('font-weight', 700).attr('fill', '#d6d6d6').text(lbl);
  r.attr('width', t.node().getComputedTextLength() + 29);
});
</script>
</body>
</html>
